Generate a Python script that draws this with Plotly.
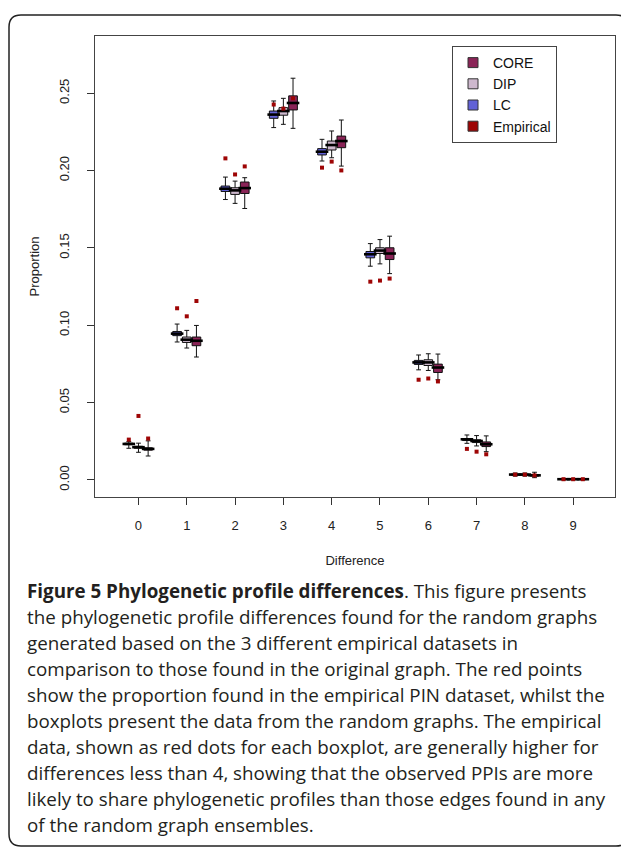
import plotly.graph_objects as go

# ---------------- data ----------------
groups = [0, 1, 2, 3, 4, 5, 6, 7, 8, 9]
tick_labels = ["0", "1", "2", "3", "4", "5", "6", "7", "8", "9"]

LC_med = [0.0233, 0.0946, 0.1883, 0.2362, 0.2122, 0.1459, 0.0760, 0.0263, 0.0035, 0.0005]
LC_q1 = [0.0228, 0.0933, 0.1865, 0.2338, 0.2101, 0.1436, 0.0747, 0.0255, 0.0032, 0.0004]
LC_q3 = [0.0238, 0.0960, 0.1900, 0.2385, 0.2142, 0.1477, 0.0773, 0.0268, 0.0038, 0.0006]
LC_lo = [0.0205, 0.0892, 0.1813, 0.2278, 0.2062, 0.1382, 0.0712, 0.0237, 0.0025, 0.0002]
LC_hi = [0.0248, 0.1008, 0.1958, 0.2450, 0.2202, 0.1528, 0.0808, 0.0291, 0.0045, 0.0008]

DIP_med = [0.0212, 0.0907, 0.1872, 0.2385, 0.2165, 0.1483, 0.0760, 0.0252, 0.0035, 0.0005]
DIP_q1 = [0.0205, 0.0889, 0.1846, 0.2358, 0.2133, 0.1464, 0.0740, 0.0242, 0.0032, 0.0004]
DIP_q3 = [0.0218, 0.0924, 0.1889, 0.2407, 0.2191, 0.1501, 0.0777, 0.0260, 0.0038, 0.0006]
DIP_lo = [0.0179, 0.0853, 0.1788, 0.2299, 0.2083, 0.1397, 0.0708, 0.0220, 0.0025, 0.0002]
DIP_hi = [0.0238, 0.0967, 0.1932, 0.2467, 0.2256, 0.1554, 0.0816, 0.0287, 0.0045, 0.0008]

CORE_med = [0.0201, 0.0900, 0.1887, 0.2437, 0.2191, 0.1464, 0.0727, 0.0231, 0.0030, 0.0005]
CORE_q1 = [0.0193, 0.0868, 0.1852, 0.2392, 0.2148, 0.1425, 0.0695, 0.0216, 0.0025, 0.0003]
CORE_q3 = [0.0208, 0.0924, 0.1926, 0.2483, 0.2223, 0.1501, 0.0749, 0.0246, 0.0035, 0.0007]
CORE_lo = [0.0155, 0.0795, 0.1755, 0.2273, 0.2029, 0.1334, 0.0648, 0.0183, 0.0015, 0.0001]
CORE_hi = [0.0253, 0.0999, 0.1954, 0.2597, 0.2327, 0.1576, 0.0814, 0.0285, 0.0050, 0.0009]

EMP_LC = [0.0261, 0.1110, 0.2079, 0.2427, 0.2019, 0.1282, 0.0648, 0.0201, 0.0035, 0.0005]
EMP_DIP = [0.0414, 0.1058, 0.1975, 0.2401, 0.2058, 0.1289, 0.0656, 0.0183, 0.0035, 0.0005]
EMP_CORE = [0.0268, 0.1157, 0.2027, 0.2467, 0.2001, 0.1302, 0.0637, 0.0166, 0.0030, 0.0005]

caption_lines = [
    "<b>Figure 5 Phylogenetic profile differences</b>. This figure presents",
    "the phylogenetic profile differences found for the random graphs",
    "generated based on the 3 different empirical datasets in",
    "comparison to those found in the original graph. The red points",
    "show the proportion found in the empirical PIN dataset, whilst the",
    "boxplots present the data from the random graphs. The empirical",
    "data, shown as red dots for each boxplot, are generally higher for",
    "differences less than 4, showing that the observed PPIs are more",
    "likely to share phylogenetic profiles than those edges found in any",
    "of the random graph ensembles.",
]

# ---------------- style ----------------
OFS = 8                      # page body margin
W, H = 629 - OFS, 849 - OFS
L, R, T, B = 95 - OFS, 615 - OFS, 36 - OFS, 497 - OFS
COL = {"LC": "#6262d6", "DIP": "#cdb8cd", "CORE": "#8a2457", "EMP": "#9e0505"}
OFF = {"LC": -0.2, "DIP": 0.0, "CORE": 0.2}
AXFONT = dict(family="Liberation Sans, Arial, Helvetica", size=13, color="#222")

series = [
    ("LC", LC_q1, LC_med, LC_q3, LC_lo, LC_hi, EMP_LC),
    ("DIP", DIP_q1, DIP_med, DIP_q3, DIP_lo, DIP_hi, EMP_DIP),
    ("CORE", CORE_q1, CORE_med, CORE_q3, CORE_lo, CORE_hi, EMP_CORE),
]

fig = go.Figure()
for name, q1, med, q3, lo, hi, emp in series:
    xs = [g + OFF[name] for g in groups]
    fig.add_trace(go.Box(
        x=xs, q1=q1, median=med, q3=q3, lowerfence=lo, upperfence=hi,
        width=0.18, whiskerwidth=0.55, fillcolor=COL[name],
        line=dict(color="#111", width=1), boxpoints=False,
        showlegend=False, hoverinfo="skip",
    ))
    fig.add_trace(go.Scatter(
        x=xs, y=med, mode="markers", showlegend=False, hoverinfo="skip",
        marker=dict(symbol="line-ew", size=9, line=dict(color="#000", width=2.6)),
    ))
    fig.add_trace(go.Scatter(
        x=xs, y=emp, mode="markers", showlegend=False, hoverinfo="skip",
        marker=dict(symbol="square", size=4, color=COL["EMP"]),
    ))

for lname, key in [("CORE", "CORE"), ("DIP", "DIP"), ("LC", "LC"), ("Empirical", "EMP")]:
    fig.add_trace(go.Scatter(
        x=[None], y=[None], mode="markers", name=lname,
        marker=dict(symbol="square", size=10, color=COL[key],
                    line=dict(color="#333", width=1)),
    ))

pw, ph = R - L, B - T
def px(xp):  # screen pixel -> paper
    return (xp - OFS - L) / pw
def py(yp):
    return (B - (yp - OFS)) / ph

annotations = []
y0 = 591
for i, line in enumerate(caption_lines):
    annotations.append(dict(
        text=line, x=px(25), y=py(y0 + i * 26.0), xref="paper", yref="paper",
        xanchor="left", yanchor="middle", showarrow=False,
        font=dict(family="Open Sans", size=18.8, color="#231f20"),
    ))

x0p, x1p, y0p, y1p, rr = 9, 628, 15, 846, 12
def P(x, y):
    return f"{px(x):.5f},{py(y):.5f}"
path = (f"M {P(x0p + rr, y0p)} L {P(x1p - rr, y0p)} Q {P(x1p, y0p)} {P(x1p, y0p + rr)} "
        f"L {P(x1p, y1p - rr)} Q {P(x1p, y1p)} {P(x1p - rr, y1p)} "
        f"L {P(x0p + rr, y1p)} Q {P(x0p, y1p)} {P(x0p, y1p - rr)} "
        f"L {P(x0p, y0p + rr)} Q {P(x0p, y0p)} {P(x0p + rr, y0p)} Z")

fig.update_layout(
    width=W, height=H,
    margin=dict(l=L, r=W - R, t=T, b=H - B),
    paper_bgcolor="white", plot_bgcolor="white",
    boxmode="overlay",
    font=AXFONT,
    showlegend=True,
    legend=dict(x=px(452), y=py(46), xanchor="left", yanchor="top",
                bgcolor="white", bordercolor="#444", borderwidth=1,
                font=dict(family="Liberation Sans, Arial", size=14, color="#111"),
                tracegroupgap=0, itemwidth=30),
    xaxis=dict(range=[-0.9, 9.866], tickmode="array", tickvals=groups, ticktext=tick_labels,
               ticks="outside", ticklen=7, tickcolor="#333", showgrid=False, zeroline=False,
               showline=True, linecolor="#444", linewidth=1, mirror=True,
               ticklabelstandoff=9,
               title=dict(text="Difference", standoff=24, font=AXFONT)),
    yaxis=dict(range=[-0.011, 0.287], tickmode="array",
               tickvals=[0, 0.05, 0.10, 0.15, 0.20, 0.25],
               ticktext=["0.00", "0.05", "0.10", "0.15", "0.20", "0.25"],
               tickangle=-90, ticks="outside", ticklen=7, tickcolor="#333",
               showgrid=False, zeroline=False, showline=True, linecolor="#444",
               linewidth=1, mirror=True, ticklabelstandoff=13,
               title=dict(text="Proportion", standoff=14, font=AXFONT)),
    annotations=annotations,
    shapes=[dict(type="path", path=path, xref="paper", yref="paper",
                 line=dict(color="#222", width=1.5), layer="below")],
)

fig.write_html("out.html")
